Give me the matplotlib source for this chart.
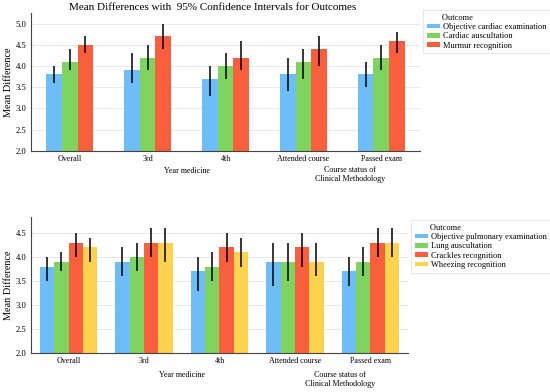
import matplotlib
matplotlib.use("Agg")
import matplotlib.pyplot as plt
import numpy as np

plt.rcParams['font.family'] = ['Liberation Serif', 'DejaVu Serif']

categories = ["Overall", "3rd", "4th", "Attended course", "Passed exam"]

# Top panel: cardiac
top_series = ["Objective cardiac examination", "Cardiac auscultation", "Murmur recognition"]
top_means = [
    [3.8, 3.9, 3.7, 3.8, 3.8],
    [4.1, 4.2, 4.0, 4.1, 4.2],
    [4.5, 4.7, 4.2, 4.4, 4.6],
]
top_low = [
    [3.6, 3.6, 3.3, 3.4, 3.5],
    [3.9, 3.9, 3.7, 3.7, 3.9],
    [4.3, 4.4, 3.9, 4.0, 4.3],
]
top_high = [
    [4.0, 4.3, 4.0, 4.2, 4.1],
    [4.4, 4.5, 4.3, 4.4, 4.5],
    [4.7, 5.0, 4.6, 4.7, 4.8],
]

# Bottom panel: pulmonary
bot_series = ["Objective pulmonary examination", "Lung auscultation",
              "Crackles recognition", "Wheezing recognition"]
bot_means = [
    [3.8, 3.9, 3.7, 3.9, 3.7],
    [3.9, 4.0, 3.8, 3.9, 3.9],
    [4.3, 4.3, 4.2, 4.2, 4.3],
    [4.2, 4.3, 4.1, 3.9, 4.3],
]
bot_low = [
    [3.5, 3.6, 3.3, 3.4, 3.4],
    [3.7, 3.7, 3.5, 3.5, 3.6],
    [4.0, 4.0, 3.9, 3.8, 4.0],
    [3.9, 3.9, 3.8, 3.6, 4.0],
]
bot_high = [
    [4.0, 4.2, 4.0, 4.3, 4.0],
    [4.1, 4.3, 4.1, 4.3, 4.2],
    [4.5, 4.6, 4.5, 4.5, 4.6],
    [4.4, 4.6, 4.4, 4.3, 4.6],
]

top_colors = ["#6cbdf8", "#7fd35f", "#fa5f3d"]
bot_colors = ["#6cbdf8", "#7fd35f", "#fa5f3d", "#fdd24c"]

fig = plt.figure(figsize=(5.5, 3.92), dpi=100)
ax1 = fig.add_axes([0.056, 0.615, 0.708, 0.352])
ax2 = fig.add_axes([0.056, 0.0995, 0.686, 0.3465])

tick_fs = 5.8
ytick_fs = 6.2
leg_fs = 6.0


def draw(ax, series, means, low, high, colors, width, ylim, yticks):
    x = np.arange(len(categories))
    n = len(series)
    handles = []
    for i in range(n):
        off = (i - (n - 1) / 2) * width
        m = np.array(means[i])
        lo = m - np.array(low[i])
        hi = np.array(high[i]) - m
        b = ax.bar(x + off, m - ylim[0], width, bottom=ylim[0], color=colors[i],
                   label=series[i], zorder=2)
        ax.errorbar(x + off, m, yerr=[lo, hi], fmt='none', ecolor='black',
                    elinewidth=1.1, capsize=0, zorder=3)
        handles.append(b)
    ax.set_xlim(-0.5, len(categories) - 0.5)
    ax.set_ylim(*ylim)
    ax.set_yticks(yticks)
    ax.set_yticklabels([f"{t:.1f}" for t in yticks])
    ax.set_xticks(x)
    ax.set_xticklabels(categories)
    ax.tick_params(axis='x', length=0, labelsize=tick_fs, pad=3)
    ax.tick_params(axis='y', length=0, labelsize=ytick_fs, pad=3)
    ax.grid(axis='y', color='#e6e6e6', linewidth=0.6, zorder=0)
    ax.set_axisbelow(True)
    for s in ['top', 'right']:
        ax.spines[s].set_visible(False)
    for s in ['left', 'bottom']:
        ax.spines[s].set_color('#444444')
        ax.spines[s].set_linewidth(0.8)
    ax.set_ylabel("Mean Difference", fontsize=7.4, labelpad=2)
    return handles


h1 = draw(ax1, top_series, top_means, top_low, top_high, top_colors, 0.2,
          (2.0, 5.25), [2.0, 2.5, 3.0, 3.5, 4.0, 4.5, 5.0])
h2 = draw(ax2, bot_series, bot_means, bot_low, bot_high, bot_colors, 0.19,
          (2.0, 4.83), [2.0, 2.5, 3.0, 3.5, 4.0, 4.5])

# group labels (offsets in points; 1 px = 0.72 pt)
ax1.annotate("Year medicine", xy=(1.5, 0), xycoords=('data', 'axes fraction'),
             xytext=(0, -20 * 0.72), textcoords='offset points',
             ha='center', va='center', fontsize=tick_fs)
ax1.annotate("Course status of\nClinical Methodology", xy=(3.6, 0),
             xycoords=('data', 'axes fraction'), xytext=(0, -24 * 0.72),
             textcoords='offset points', ha='center', va='center',
             fontsize=tick_fs, linespacing=1.15)
ax2.annotate("Year medicine", xy=(1.5, 0), xycoords=('data', 'axes fraction'),
             xytext=(0, -22 * 0.72), textcoords='offset points',
             ha='center', va='center', fontsize=tick_fs)
ax2.annotate("Course status of\nClinical Methodology", xy=(3.6, 0),
             xycoords=('data', 'axes fraction'), xytext=(0, -26.5 * 0.72),
             textcoords='offset points', ha='center', va='center',
             fontsize=tick_fs, linespacing=1.15)

fig.text(213 / 550, 1 - 8 / 392, "Mean Differences with  95% Confidence Intervals for Outcomes",
         ha='center', va='center', fontsize=8)

leg_kw = dict(fontsize=leg_fs, title_fontsize=leg_fs, frameon=True, fancybox=False,
              edgecolor='#dddddd', handlelength=1.6, handleheight=0.45,
              handletextpad=0.3, labelspacing=0.15, borderpad=0.45,
              alignment='left', borderaxespad=0)
legend_title = "Outcome"
l1 = fig.legend(handles=h1, labels=top_series, title="       " + legend_title,
                loc='upper left', bbox_to_anchor=(423 / 550, 1 - 10 / 392), **leg_kw)
l1.get_frame().set_linewidth(0.6)
l2 = fig.legend(handles=h2, labels=bot_series, title="       " + legend_title,
                loc='upper left', bbox_to_anchor=(411 / 550, 1 - 220 / 392), **leg_kw)
l2.get_frame().set_linewidth(0.6)

fig.savefig("out.png", dpi=100)
